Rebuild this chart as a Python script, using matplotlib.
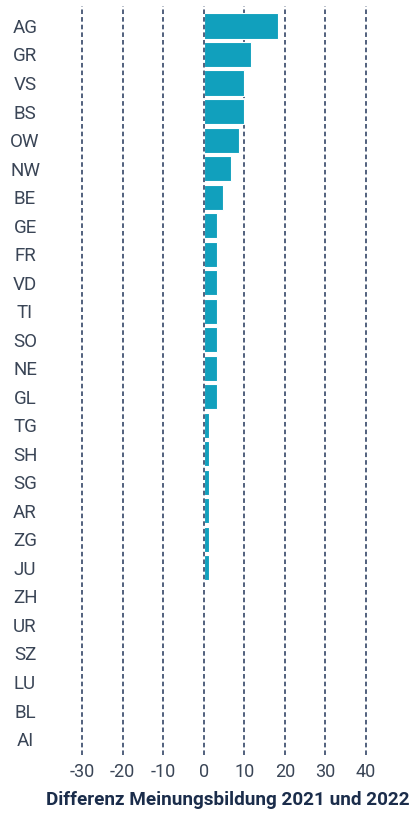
import matplotlib
matplotlib.use('Agg')
import matplotlib.pyplot as plt

# Kantone, sortiert wie in der Vorlage (oben nach unten)
cantons = ["AG", "GR", "VS", "BS", "OW", "NW", "BE", "GE", "FR", "VD", "TI",
           "SO", "NE", "GL", "TG", "SH", "SG", "AR", "ZG", "JU", "ZH", "UR",
           "SZ", "LU", "BL", "AI"]
diff = [18.4, 11.7, 10.0, 10.0, 8.6, 6.7, 4.8, 3.3, 3.3, 3.3, 3.3,
        3.3, 3.3, 3.3, 1.4, 1.4, 1.4, 1.4, 1.4, 1.4, 0, 0,
        0, 0, 0, 0]
xticks = [-30, -20, -10, 0, 10, 20, 30, 40]

bar_color = '#11a0bd'
grid_color = '#22365a'
text_color = '#3a4556'
title_color = '#1b2d4b'

plt.rcParams['font.family'] = ['Roboto', 'DejaVu Sans']

fig = plt.figure(figsize=(4.13, 8.13), dpi=100)
ax = fig.add_axes([82 / 413, 1 - 755 / 813, (366 - 82) / 413, 749 / 813])

y = list(range(len(cantons)))
ax.barh(y, diff, height=0.88, color=bar_color, edgecolor='white',
        linewidth=0.8, zorder=3)

for t in xticks:
    ax.axvline(t, color=grid_color, linestyle=(0, (3, 2)), linewidth=1.1,
               zorder=4 if t == 0 else 1, clip_on=False)

ax.set_xlim(-30, 40)
ax.set_ylim(len(cantons) - 0.44, -0.7)
ax.set_xticks(xticks)
ax.set_xticklabels([str(t) for t in xticks])
ax.set_yticks(y)
ax.set_yticklabels(cantons)

for lbl in ax.get_yticklabels():
    lbl.set_horizontalalignment('center')
ax.tick_params(axis='y', length=0, pad=41, labelsize=13.5, labelcolor=text_color)
ax.tick_params(axis='x', length=0, pad=6, labelsize=13, labelcolor=text_color)

for s in ax.spines.values():
    s.set_visible(False)

ax.set_xlabel('Differenz Meinungsbildung 2021 und 2022', fontsize=13.6,
              fontweight='bold', color=title_color, labelpad=7)
ax.xaxis.label.set_x((227.5 - 82) / (366 - 82))

fig.savefig('out.png', dpi=100)
